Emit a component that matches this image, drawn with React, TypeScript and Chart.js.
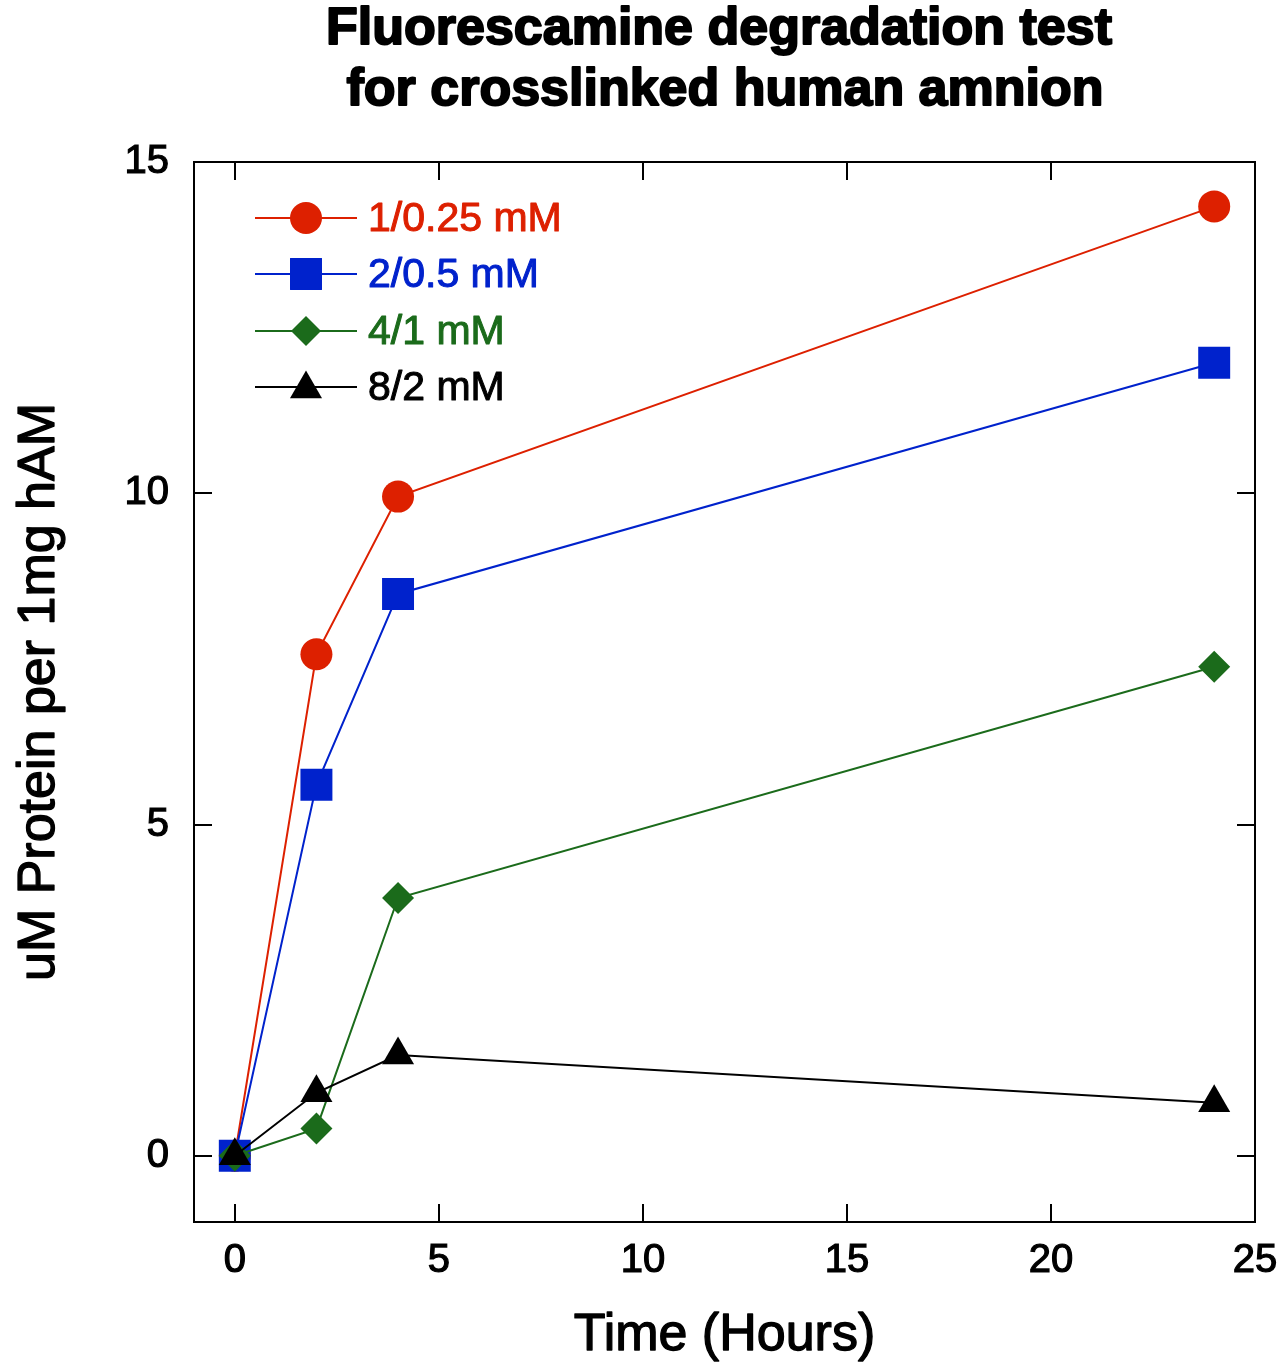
import React, { useEffect, useRef } from 'react';
import { Chart, registerables } from 'chart.js';

Chart.register(...registerables);

const TITLE_LINES = ['Fluorescamine degradation test', 'for crosslinked human amnion'];
const X_TITLE = 'Time (Hours)';
const Y_TITLE = 'uM Protein per 1mg hAM';
const TIME_HOURS = [0, 2, 4, 24];
const SERIES_LABELS = ['1/0.25 mM', '2/0.5 mM', '4/1 mM', '8/2 mM'];
const RED_VALUES = [0, 7.57, 9.95, 14.33];
const BLUE_VALUES = [0, 5.6, 8.48, 11.97];
const GREEN_VALUES = [0, 0.41, 3.89, 7.38];
const BLACK_VALUES = [0, 0.95, 1.52, 0.8];
const X_TICKS = [0, 5, 10, 15, 20, 25];
const Y_TICKS = [0, 5, 10, 15];
const X_MIN = -1;
const X_MAX = 25;
const Y_MIN = -1;
const Y_MAX = 15;

const COLORS = ['#dd2000', '#0022cc', '#1b6b1b', '#000000'];
const STYLES = ['circle', 'rect', 'rectRot', 'triangle'];
const RADII = [16, 22.6, 16, 18.5];
const LEGEND_RADII = [16, 22.6, 15, 18.5];
const FONT = "'Liberation Sans', Arial, sans-serif";

function drawMarker(ctx: CanvasRenderingContext2D, style: string, x: number, y: number, r: number, color: string) {
  ctx.save();
  ctx.fillStyle = color;
  ctx.beginPath();
  if (style === 'circle') {
    ctx.arc(x, y, r, 0, Math.PI * 2);
  } else if (style === 'rect') {
    const s = r * Math.SQRT1_2;
    ctx.rect(x - s, y - s, 2 * s, 2 * s);
  } else if (style === 'rectRot') {
    ctx.moveTo(x, y - r);
    ctx.lineTo(x + r, y);
    ctx.lineTo(x, y + r);
    ctx.lineTo(x - r, y);
    ctx.closePath();
  } else {
    for (let i = 0; i < 3; i++) {
      const a = (i * 2 * Math.PI) / 3;
      const px = x + Math.sin(a) * r;
      const py = y - Math.cos(a) * r;
      if (i === 0) ctx.moveTo(px, py);
      else ctx.lineTo(px, py);
    }
    ctx.closePath();
  }
  ctx.fill();
  ctx.restore();
}

function heavyText(ctx: CanvasRenderingContext2D, text: string, x: number, y: number, color: string, sw: number) {
  ctx.fillStyle = color;
  ctx.strokeStyle = color;
  ctx.lineWidth = sw;
  ctx.lineJoin = 'round';
  ctx.fillText(text, x, y);
  if (sw > 0) ctx.strokeText(text, x, y);
}

const decorPlugin = {
  id: 'decor',
  afterDraw(chart: any) {
    const ctx: CanvasRenderingContext2D = chart.ctx;
    const { left, right, top, bottom } = chart.chartArea;
    const xs = chart.scales.x;
    const ys = chart.scales.y;
    const tl = 18;
    ctx.save();
    ctx.strokeStyle = '#000';
    ctx.lineWidth = 2;
    ctx.strokeRect(left, top, right - left, bottom - top);
    ctx.beginPath();
    X_TICKS.forEach((v) => {
      const px = Math.round(xs.getPixelForValue(v));
      ctx.moveTo(px, bottom);
      ctx.lineTo(px, bottom - tl);
      ctx.moveTo(px, top);
      ctx.lineTo(px, top + tl);
    });
    Y_TICKS.forEach((v) => {
      const py = Math.round(ys.getPixelForValue(v));
      ctx.moveTo(left, py);
      ctx.lineTo(left + tl, py);
      ctx.moveTo(right, py);
      ctx.lineTo(right - tl, py);
    });
    ctx.stroke();

    // title
    ctx.font = `bold 52px ${FONT}`;
    ctx.textAlign = 'center';
    ctx.textBaseline = 'alphabetic';
    heavyText(ctx, TITLE_LINES[0], 719, 44, '#000', 2);
    heavyText(ctx, TITLE_LINES[1], 725, 105, '#000', 2);

    // axis titles
    ctx.font = `52px ${FONT}`;
    heavyText(ctx, X_TITLE, (left + right) / 2, 1350, '#000', 1.3);
    ctx.save();
    ctx.translate(54, (top + bottom) / 2);
    ctx.rotate(-Math.PI / 2);
    heavyText(ctx, Y_TITLE, 0, 0, '#000', 1.3);
    ctx.restore();

    // legend
    const lx0 = left + 61;
    const lx1 = left + 163;
    const mx = left + 112;
    const tx = left + 174;
    const rows = [top + 56, top + 112, top + 169, top + 225];
    ctx.font = `41px ${FONT}`;
    ctx.textAlign = 'left';
    ctx.textBaseline = 'middle';
    SERIES_LABELS.forEach((lab, i) => {
      const y = rows[i];
      ctx.strokeStyle = COLORS[i];
      ctx.lineWidth = 2;
      ctx.beginPath();
      ctx.moveTo(lx0, y);
      ctx.lineTo(lx1, y);
      ctx.stroke();
      drawMarker(ctx, STYLES[i], mx, i === 3 ? y + 2 : y, LEGEND_RADII[i], COLORS[i]);
      heavyText(ctx, lab, tx, y + 2, COLORS[i], 1);
    });
    ctx.restore();
  },
};

export default function App() {
  const ref = useRef<HTMLCanvasElement | null>(null);
  useEffect(() => {
    if (!ref.current) return;
    const series = [RED_VALUES, BLUE_VALUES, GREEN_VALUES, BLACK_VALUES];
    const datasets = series.map((vals, i) => ({
      label: SERIES_LABELS[i],
      data: TIME_HOURS.map((t, j) => ({ x: t, y: vals[j] })),
      borderColor: COLORS[i],
      backgroundColor: COLORS[i],
      borderWidth: 2,
      pointStyle: STYLES[i],
      pointRadius: RADII[i],
      pointBorderWidth: 0,
      pointBackgroundColor: COLORS[i],
      showLine: true,
      tension: 0,
      clip: false as any,
      order: 4 - i,
    }));
    const chart = new Chart(ref.current, {
      type: 'scatter',
      data: { datasets },
      plugins: [decorPlugin],
      options: {
        responsive: false,
        animation: false,
        devicePixelRatio: 1,
        layout: { padding: { top: 162, right: 25, left: 0, bottom: 0 } },
        plugins: { legend: { display: false }, tooltip: { enabled: false }, title: { display: false } },
        scales: {
          x: {
            type: 'linear',
            min: X_MIN,
            max: X_MAX,
            grid: { display: false, drawTicks: false },
            border: { display: false },
            afterBuildTicks: (s: any) => {
              s.ticks = X_TICKS.map((v) => ({ value: v }));
            },
            afterFit: (s: any) => {
              s.height = 144;
              s.paddingLeft = 0;
              s.paddingRight = 0;
            },
            ticks: {
              color: '#000',
              padding: 15,
              font: { family: FONT, size: 40 },
              textStrokeColor: '#000',
              textStrokeWidth: 1.2,
              maxRotation: 0,
              callback: (v: any) => String(v),
            },
            title: { display: false },
          },
          y: {
            type: 'linear',
            min: Y_MIN,
            max: Y_MAX,
            grid: { display: false, drawTicks: false },
            border: { display: false },
            afterBuildTicks: (s: any) => {
              s.ticks = Y_TICKS.map((v) => ({ value: v }));
            },
            afterFit: (s: any) => {
              s.width = 194;
              s.paddingTop = 0;
              s.paddingBottom = 0;
            },
            ticks: {
              color: '#000',
              padding: 25,
              font: { family: FONT, size: 40 },
              textStrokeColor: '#000',
              textStrokeWidth: 1.2,
              callback: (v: any) => String(v),
            },
            title: { display: false },
          },
        },
      },
    } as any);
    return () => chart.destroy();
  }, []);
  return (
    <div style={{ position: 'fixed', left: 0, top: 0, width: 1280, height: 1366, background: '#fff' }}>
      <canvas ref={ref} width={1280} height={1366} style={{ display: 'block', width: 1280, height: 1366 }} />
    </div>
  );
}
